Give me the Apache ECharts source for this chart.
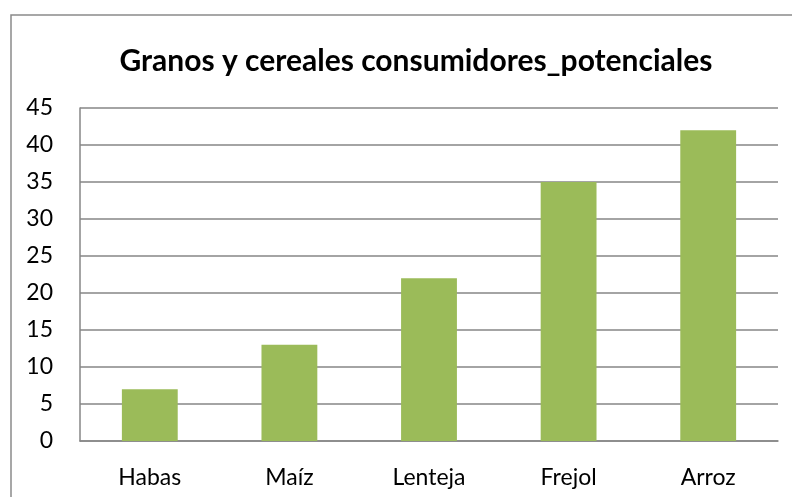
<!DOCTYPE html>
<html>
<head>
<meta charset="utf-8">
<script src="https://cdn.jsdelivr.net/npm/echarts@6/dist/echarts.min.js"></script>
<style>
  html, body { margin: 0; padding: 0; background: #fff; }
  #main { width: 792px; height: 497px; }
</style>
</head>
<body>
<div id="main"></div>
<script>
// datos
const categories = ['Habas', 'Maíz', 'Lenteja', 'Frejol', 'Arroz']
const consumidores = [7, 13, 22, 35, 42]

const chart = echarts.init(document.getElementById('main'))
const option = {
  animation: false,
  textStyle: { fontFamily: 'Lato, "Open Sans", sans-serif' },
  title: {
    text: 'Granos y cereales consumidores_potenciales',
    left: 411,
    top: 41,
    textAlign: 'center',
    textStyle: { fontSize: 30, fontWeight: 'bold', color: '#000', fontFamily: 'Lato, "Open Sans", sans-serif' }
  },
  graphic: [
    {
      type: 'rect',
      shape: { x: 11, y: 15, width: 820, height: 520 },
      style: { fill: 'none', stroke: '#8a8a8a', lineWidth: 1.5 },
      silent: true
    }
  ],
  grid: { left: 80, right: 14, top: 108, bottom: 56 },
  xAxis: {
    type: 'category',
    data: categories,
    axisLine: { show: true, lineStyle: { color: '#868686', width: 1.5 } },
    axisTick: { show: false },
    axisLabel: { color: '#000', fontSize: 23, margin: 25 }
  },
  yAxis: {
    type: 'value',
    min: 0,
    max: 45,
    interval: 5,
    axisLine: { show: true, lineStyle: { color: '#868686', width: 1.5 } },
    axisTick: { show: false },
    splitLine: { lineStyle: { color: '#868686', width: 1.5 } },
    axisLabel: { color: '#000', fontSize: 23, margin: 27 }
  },
  series: [
    {
      name: 'consumidores_potenciales',
      type: 'bar',
      data: consumidores,
      barWidth: '40%',
      itemStyle: { color: '#9BBB59' }
    }
  ]
}
chart.setOption(option)
</script>
</body>
</html>
